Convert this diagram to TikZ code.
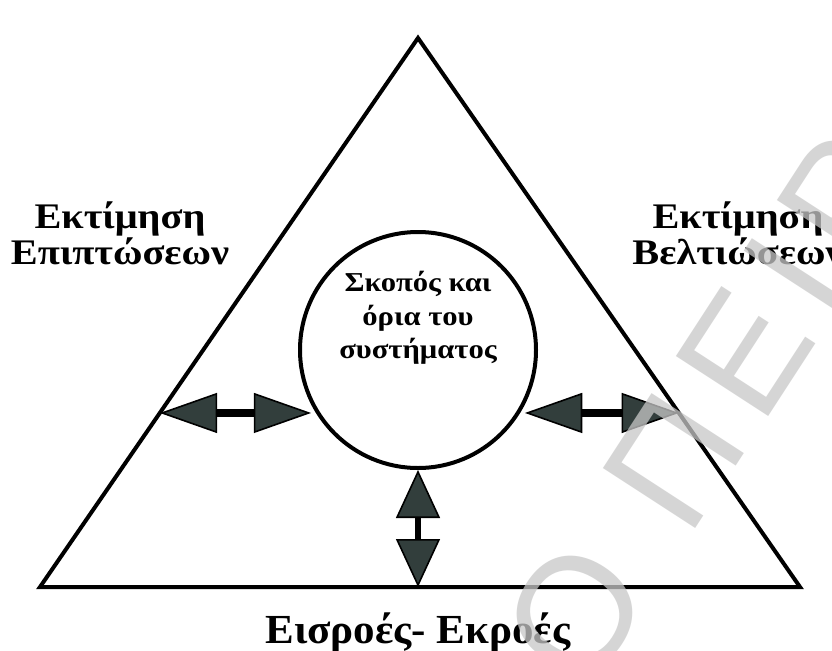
\documentclass[tikz,border=0pt]{standalone}
\usepackage{fontspec}
\setmainfont{Liberation Serif}
\newfontfamily\widefont{Liberation Serif}[FakeStretch=1.12]
\newfontfamily\basefont{Liberation Serif}[FakeStretch=1.04]
\newfontfamily\wmfont{Liberation Sans}[LetterSpace=11]
\usetikzlibrary{arrows.meta,calc}
\definecolor{headfill}{RGB}{50,62,60}
\definecolor{wmgray}{RGB}{200,200,200}
\begin{document}
\begin{tikzpicture}[x=0.75pt,y=-0.75pt,
  outline/.style={draw=black,line width=3pt},
  sidelabel/.style={font=\widefont\bfseries\fontsize{27}{24}\selectfont, align=center, inner sep=0pt},
  corelabel/.style={font=\widefont\bfseries\fontsize{20.5}{25}\selectfont, align=center, inner sep=0pt},
  baselabel/.style={font=\basefont\bfseries\fontsize{31}{34}\selectfont, inner sep=0pt},
  hdouble/.style={draw=black, line width=6pt, {Triangle[length=43pt,width=30pt,fill=headfill,line width=1.2pt]}-{Triangle[length=43pt,width=30pt,fill=headfill,line width=1.2pt]}},
  vdouble/.style={draw=black, line width=4.5pt, {Triangle[length=36pt,width=33pt,fill=headfill,line width=1.2pt]}-{Triangle[length=36pt,width=33pt,fill=headfill,line width=1.2pt]}},
  watermark/.style={font=\wmfont\fontsize{120}{120}\selectfont, text=wmgray, opacity=0.75, inner sep=0pt, rotate=57, anchor=base west}
]
\useasboundingbox (0,0) rectangle (832,650);
\fill[white] (0,0) rectangle (832,650);

% outer triangle
\coordinate (apex) at (418,38);
\coordinate (bl) at (40,587);
\coordinate (br) at (800,587);
\draw[outline, line join=miter] (apex) -- (bl) -- (br) -- cycle;

% central circle and its text
\node[circle, outline, minimum size=177pt, inner sep=0pt] (core) at (418,350) {};
\node[corelabel] (coretext) at (418,318) {Σκοπός και\\όρια του\\συστήματος};

% points on the triangle sides where the arrows meet them
\coordinate (lp) at ($(apex)!0.683!(bl)$);
\coordinate (rp) at ($(apex)!0.683!(br)$);
\coordinate (bp) at (core.south |- bl);

% double arrows
\draw[hdouble] (lp) -- (core.207 |- lp);
\draw[hdouble] (core.-27 |- rp) -- (rp);
\draw[vdouble] (core.south) -- (bp);

% side and base labels
\node[sidelabel] (impact) at (120,233) {Εκτίμηση\\Επιπτώσεων};
\node[sidelabel] (improve) at (738,233) {Εκτίμηση\\Βελτιώσεων};
\node[baselabel, anchor=base] (flows) at (418,643) {Εισροές- Εκροές};

% watermark
\node[watermark] (wm) at (587,696) {Ο ΠΕΙΡ};
\end{tikzpicture}
\end{document}
